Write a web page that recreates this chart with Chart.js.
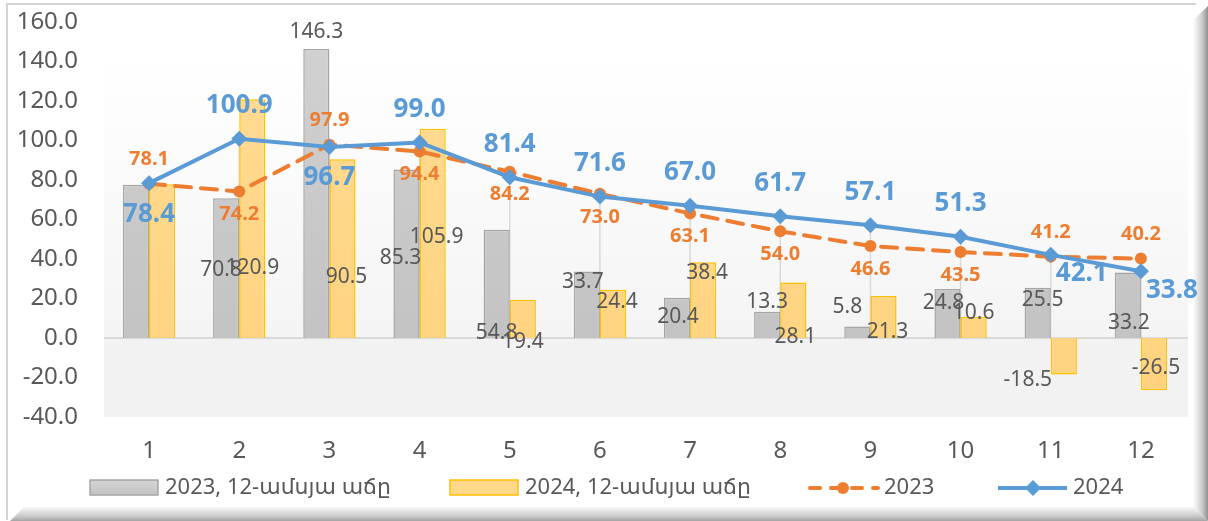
<!DOCTYPE html>
<html>
<head>
<meta charset="utf-8">
<script src="https://cdn.jsdelivr.net/npm/chart.js@4.4.0/dist/chart.umd.min.js"></script>
<style>
  html, body { margin: 0; background: #fff; }
  #wrap { width: 1208px; height: 521px; position: relative; }
</style>
</head>
<body>
<div id="wrap"><canvas id="chart" width="1208" height="521"></canvas></div>
<script>
// ---- data ----
const months = ['1', '2', '3', '4', '5', '6', '7', '8', '9', '10', '11', '12'];
const growth2023 = [77.6, 70.8, 146.3, 85.3, 54.8, 33.7, 20.4, 13.3, 5.8, 24.8, 25.5, 33.2];
const growth2024 = [77.9, 120.9, 90.5, 105.9, 19.4, 24.4, 38.4, 28.1, 21.3, 10.6, -18.5, -26.5];
const line2023 = [78.1, 74.2, 97.9, 94.4, 84.2, 73.0, 63.1, 54.0, 46.6, 43.5, 41.2, 40.2];
const line2024 = [78.4, 100.9, 96.7, 99.0, 81.4, 71.6, 67.0, 61.7, 57.1, 51.3, 42.1, 33.8];
const yMin = -40, yMax = 160, yStep = 20;
const legendNames = ['2023, 12-ամսյա աճը', '2024, 12-ամսյա աճը', '2023', '2024'];

// ---- label layout (where the bar labels sit, in axis units; side of line labels) ----
const grayLabelAt = [null, 34.4, 154.9, 40.5, 2.5, 28.4, 10.6, 18.2, 15.7, 17.7, 19.2, 7.6];
const grayLabelDx = [0, -5, 0, -6, 0, -4, 1, 0, -10, -4, 5, 1];
const yellowLabelAt = [null, 35.4, 30.9, 51.1, -2.0, 18.2, 32.9, 0.5, 3.0, 12.7, -21.3, -15.2];
const yellowLabelDx = [0, 0, 4, 4, 0, 4, 4, 2, 4, 0, -36, 2];
const blueSide = ['below', 'above', 'below', 'above', 'above', 'above', 'above', 'above', 'above', 'above', 'right', 'right'];
const orangeSide = ['above', 'below', 'above', 'below', 'below', 'below', 'below', 'below', 'below', 'below', 'above', 'above'];

const FONT = '"Noto Sans", "DejaVu Sans", sans-serif';
const TEXT = '#595959';
const BLUE = '#5B9BD5';
const ORANGE = '#ED7D31';

function barGradient(ctx, top, bottom) {
    const area = ctx.chart.chartArea;
    if (!area) return top;
    const g = ctx.chart.ctx.createLinearGradient(0, area.top, 0, area.bottom);
    g.addColorStop(0, top);
    g.addColorStop(1, bottom);
    return g;
}

// frame, plot background, zero line and drop lines
const backdrop = {
    id: 'backdrop',
    beforeDraw(chart) {
        const c = chart.ctx, W = chart.width, H = chart.height;
        c.save();
        c.fillStyle = '#fff';
        c.fillRect(0, 0, W, H);
        // top / left border
        c.strokeStyle = '#d4d4d4';
        c.lineWidth = 2;
        c.beginPath();
        c.moveTo(6, 4); c.lineTo(1196, 4);
        c.moveTo(7, 4); c.lineTo(7, 520);
        c.stroke();
        // right bevel
        let g = c.createLinearGradient(1193, 0, 1208, 0);
        g.addColorStop(0, '#ffffff');
        g.addColorStop(0.6, '#cccccc');
        g.addColorStop(1, '#909090');
        c.fillStyle = g;
        c.beginPath();
        c.moveTo(1193, 20); c.lineTo(1208, 6); c.lineTo(1208, 521); c.lineTo(1193, 507);
        c.closePath(); c.fill();
        // bottom bevel
        g = c.createLinearGradient(0, 506, 0, 521);
        g.addColorStop(0, '#ffffff');
        g.addColorStop(0.7, '#c8c8c8');
        g.addColorStop(1, '#a4a4a4');
        c.fillStyle = g;
        c.beginPath();
        c.moveTo(24, 507); c.lineTo(1193, 507); c.lineTo(1208, 521); c.lineTo(10, 521);
        c.closePath(); c.fill();
        c.restore();
    },
    beforeDatasetsDraw(chart) {
        const c = chart.ctx, a = chart.chartArea, y = chart.scales.y, x = chart.scales.x;
        const zero = y.getPixelForValue(0);
        c.save();
        const g = c.createLinearGradient(0, a.top + 40, 0, zero);
        g.addColorStop(0, '#ffffff');
        g.addColorStop(1, '#f4f4f4');
        c.fillStyle = g;
        c.fillRect(a.left, a.top, a.right - a.left + 2, zero - a.top);
        c.fillStyle = '#f2f2f2';
        c.fillRect(a.left, zero, a.right - a.left + 2, a.bottom - zero);
        // drop lines
        c.strokeStyle = '#d9d9d9';
        c.lineWidth = 1.5;
        months.forEach((m, i) => {
            const px = x.getPixelForValue(i);
            const top = y.getPixelForValue(Math.max(line2023[i], line2024[i]));
            c.beginPath(); c.moveTo(px, top); c.lineTo(px, zero); c.stroke();
        });
        c.lineWidth = 2;
        c.beginPath(); c.moveTo(a.left, zero); c.lineTo(a.right + 2, zero); c.stroke();
        c.restore();
    }
};

// data labels and legend
const labels = {
    id: 'labels',
    afterDatasetsDraw(chart) {
        const c = chart.ctx, y = chart.scales.y;
        c.save();
        c.textAlign = 'center';
        c.textBaseline = 'middle';

        c.font = '21px ' + FONT;
        c.fillStyle = TEXT;
        const barSets = [[0, growth2023, grayLabelAt, grayLabelDx], [1, growth2024, yellowLabelAt, yellowLabelDx]];
        barSets.forEach(([idx, vals, at, dx]) => {
            chart.getDatasetMeta(idx).data.forEach((el, i) => {
                if (at[i] === null) return;
                c.fillText(vals[i].toFixed(1), el.x + dx[i], y.getPixelForValue(at[i]));
            });
        });

        c.font = 'bold 20px ' + FONT;
        c.fillStyle = ORANGE;
        chart.getDatasetMeta(2).data.forEach((el, i) => {
            const off = orangeSide[i] === 'above' ? -24 : 23;
            c.fillText(line2023[i].toFixed(1), el.x, el.y + off);
        });

        c.font = 'bold 26px ' + FONT;
        c.fillStyle = BLUE;
        chart.getDatasetMeta(3).data.forEach((el, i) => {
            let dx = 0, dy = 0;
            if (blueSide[i] === 'above') dy = -33;
            else if (blueSide[i] === 'below') dy = 31;
            else { dx = 31; dy = 19; }
            c.fillText(line2024[i].toFixed(1), el.x + dx, el.y + dy);
        });
        c.restore();
    },
    afterDraw(chart) {
        const c = chart.ctx, ly = 488;
        c.save();
        c.font = '22px ' + FONT;
        c.fillStyle = TEXT;
        c.textBaseline = 'middle';
        c.textAlign = 'left';

        // gray box
        let g = c.createLinearGradient(0, ly - 8, 0, ly + 8);
        g.addColorStop(0, '#d4d4d4'); g.addColorStop(1, '#c2c2c2');
        c.fillStyle = g;
        c.fillRect(90, ly - 8, 68, 15);
        c.strokeStyle = '#a5a5a5'; c.lineWidth = 1.5;
        c.strokeRect(90, ly - 8, 68, 15);
        c.fillStyle = TEXT;
        c.fillText(legendNames[0], 165, ly);

        // yellow box
        c.fillStyle = '#ffd88c';
        c.fillRect(450, ly - 8, 68, 15);
        c.strokeStyle = '#ffc000';
        c.strokeRect(450, ly - 8, 68, 15);
        c.fillStyle = TEXT;
        c.fillText(legendNames[1], 525, ly);

        // orange dashed line
        c.strokeStyle = ORANGE; c.lineWidth = 4; c.lineCap = 'round';
        c.setLineDash([10, 11]);
        c.beginPath(); c.moveTo(810, ly); c.lineTo(878, ly); c.stroke();
        c.setLineDash([]);
        c.fillStyle = ORANGE;
        c.beginPath(); c.arc(843, ly, 6, 0, Math.PI * 2); c.fill();
        c.fillStyle = TEXT;
        c.fillText(legendNames[2], 884, ly);

        // blue line with diamond
        c.strokeStyle = BLUE; c.lineCap = 'butt';
        c.beginPath(); c.moveTo(998, ly); c.lineTo(1067, ly); c.stroke();
        c.fillStyle = BLUE;
        c.beginPath();
        c.moveTo(1033, ly - 8); c.lineTo(1041, ly); c.lineTo(1033, ly + 8); c.lineTo(1025, ly);
        c.closePath(); c.fill();
        c.fillStyle = TEXT;
        c.fillText(legendNames[3], 1073, ly);
        c.restore();
    }
};

new Chart(document.getElementById('chart'), {
    type: 'bar',
    data: {
        labels: months,
        datasets: [
            {
                label: legendNames[0],
                data: growth2023,
                backgroundColor: ctx => barGradient(ctx, '#d2d2d2', '#bfbfbf'),
                borderColor: '#a5a5a5',
                borderWidth: 1.5,
                categoryPercentage: 0.58,
                barPercentage: 1,
                order: 3
            },
            {
                label: legendNames[1],
                data: growth2024,
                backgroundColor: ctx => barGradient(ctx, '#ffdc96', '#ffd27c'),
                borderColor: '#ffc000',
                borderWidth: 1.5,
                categoryPercentage: 0.58,
                barPercentage: 1,
                order: 3
            },
            {
                type: 'line',
                label: legendNames[2],
                data: line2023,
                borderColor: ORANGE,
                backgroundColor: ORANGE,
                borderWidth: 4,
                borderDash: [16, 10],
                borderCapStyle: 'round',
                pointStyle: 'circle',
                pointRadius: 6,
                pointBorderWidth: 0,
                tension: 0,
                order: 2
            },
            {
                type: 'line',
                label: legendNames[3],
                data: line2024,
                borderColor: BLUE,
                backgroundColor: BLUE,
                borderWidth: 4,
                pointStyle: 'rectRot',
                pointRadius: 8,
                pointBorderWidth: 0,
                tension: 0,
                order: 1
            }
        ]
    },
    options: {
        responsive: false,
        animation: false,
        layout: { padding: { top: 22, right: 22, bottom: 44, left: 0 } },
        plugins: {
            legend: { display: false },
            tooltip: { enabled: false }
        },
        scales: {
            y: {
                min: yMin,
                max: yMax,
                ticks: {
                    stepSize: yStep,
                    padding: 18,
                    color: TEXT,
                    font: { family: FONT, size: 24 },
                    callback: v => v.toFixed(1)
                },
                grid: { display: false },
                border: { display: false },
                afterFit(scale) { scale.width = 104; scale.paddingTop = 0; scale.paddingBottom = 0; }
            },
            x: {
                ticks: {
                    padding: 12,
                    color: TEXT,
                    font: { family: FONT, size: 24 }
                },
                grid: { display: false },
                border: { display: false },
                afterFit(scale) { scale.height = 60; }
            }
        }
    },
    plugins: [backdrop, labels]
});
</script>
</body>
</html>
